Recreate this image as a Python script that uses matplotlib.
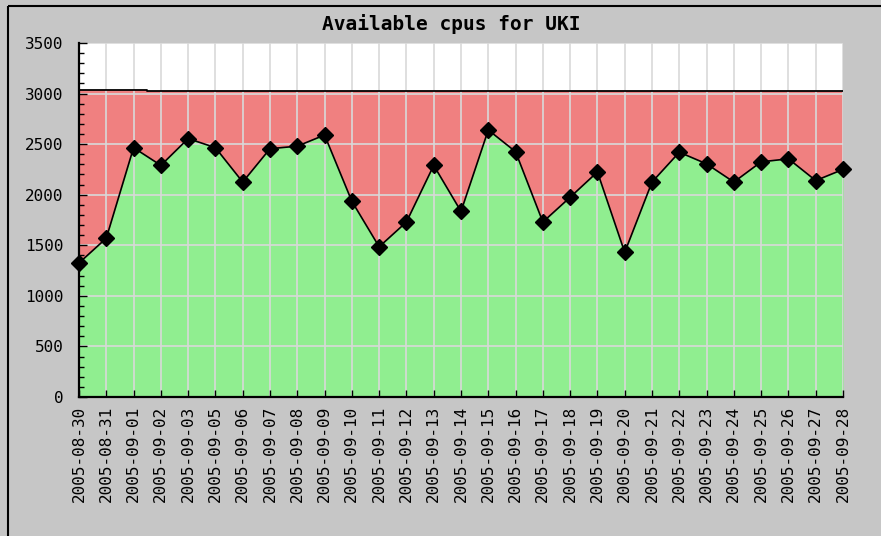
#!/usr/bin/env python

import matplotlib
matplotlib.use('Agg')
import matplotlib.pyplot as plt
from matplotlib.lines import Line2D
from matplotlib.ticker import MultipleLocator

dates = ['2005-08-30', '2005-08-31', '2005-09-01', '2005-09-02', '2005-09-03',
         '2005-09-05', '2005-09-06', '2005-09-07', '2005-09-08', '2005-09-09',
         '2005-09-10', '2005-09-11', '2005-09-12', '2005-09-13', '2005-09-14',
         '2005-09-15', '2005-09-16', '2005-09-17', '2005-09-18', '2005-09-19',
         '2005-09-20', '2005-09-21', '2005-09-22', '2005-09-23', '2005-09-24',
         '2005-09-25', '2005-09-26', '2005-09-27', '2005-09-28']

available = [1325, 1570, 2465, 2290, 2555,
             2465, 2125, 2455, 2480, 2590,
             1935, 1485, 1730, 2290, 1835,
             2640, 2425, 1730, 1975, 2225,
             1430, 2125, 2420, 2305, 2125,
             2325, 2355, 2140, 2250]

total = [3036, 3036, 3036] + [3024] * 26

title = 'Available cpus for UKI'

bg_color = '#c6c6c6'
used_color = '#f08080'
free_color = '#90ee90'
grid_color = '#d9d9d9'

matplotlib.rc('font', **{'family': 'monospace', 'monospace': ['DejaVu Sans Mono']})

fig = plt.figure(figsize=(8.81, 5.36), dpi=100, facecolor=bg_color)
ax = fig.add_axes([79 / 881, 1 - 397 / 536, (843 - 79) / 881, (397 - 43) / 536])
ax.set_facecolor('white')

x = list(range(len(dates)))

ax.fill_between(x, 0, total, step='mid', color=used_color, lw=0, zorder=1)
ax.fill_between(x, 0, available, color=free_color, lw=0, zorder=1.1)
ax.plot(x, total, drawstyle='steps-mid', color='black', lw=1.3, zorder=2)
ax.plot(x, available, color='black', lw=1.2, marker='D', markersize=8.5,
        markerfacecolor='black', markeredgecolor='black', zorder=3, clip_on=False)

ax.set_xlim(0, len(dates) - 1)
ax.set_ylim(0, 3500)

ax.set_xticks(x)
ax.set_xticklabels(dates, rotation=90, fontsize=11.5)
ax.yaxis.set_major_locator(MultipleLocator(500))
ax.yaxis.set_minor_locator(MultipleLocator(100))

ax.tick_params(axis='y', which='major', direction='in', length=6, width=1, pad=11, labelsize=11.5)
ax.tick_params(axis='y', which='minor', direction='in', length=3.5, width=1)
ax.tick_params(axis='x', which='major', direction='in', length=5, width=1, pad=6)

ax.grid(True, which='major', color=grid_color, lw=1.2)

for spine_name in ['top', 'right']:
    ax.spines[spine_name].set_visible(False)
for spine_name in ['left', 'bottom']:
    ax.spines[spine_name].set_linewidth(1.6)
    ax.spines[spine_name].set_zorder(4)

fig.text(451 / 881, 1 - 24 / 536, title, ha='center', va='center',
         fontsize=14, fontweight='bold')

# frame lines on the top and left edge of the picture
fig.add_artist(Line2D([7.5 / 881, 1.01], [1 - 5.5 / 536, 1 - 5.5 / 536], color='black', lw=1.5,
                      transform=fig.transFigure, solid_capstyle='butt'))
fig.add_artist(Line2D([7.5 / 881, 7.5 / 881], [-0.01, 1 - 5.5 / 536], color='black', lw=1.5,
                      transform=fig.transFigure, solid_capstyle='butt'))

plt.savefig('out.png', dpi=100, facecolor=bg_color)
plt.close()
